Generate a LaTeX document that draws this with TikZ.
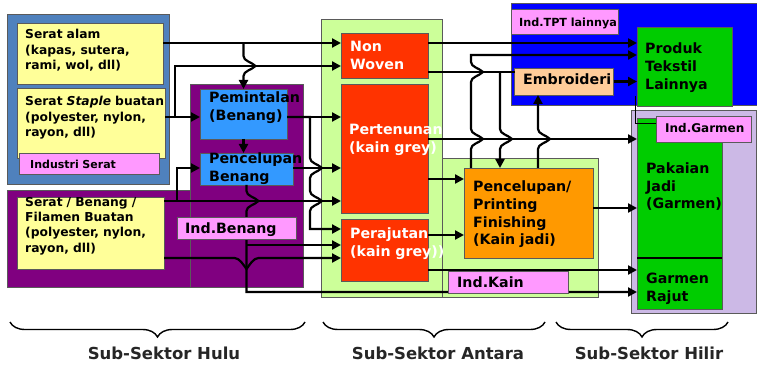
\documentclass[tikz,border=0pt]{standalone}
\usepackage{fontspec}
\setmainfont{DejaVu Sans}
\usetikzlibrary{arrows.meta,decorations.pathreplacing}

\definecolor{grpblue}{HTML}{4F81BD}
\definecolor{pale}{HTML}{FFFF99}
\definecolor{pinklbl}{HTML}{FF99FF}
\definecolor{plum}{HTML}{800080}
\definecolor{skyb}{HTML}{3399FF}
\definecolor{limeg}{HTML}{CCFF99}
\definecolor{redor}{HTML}{FF3300}
\definecolor{orng}{HTML}{FF9900}
\definecolor{tptblue}{HTML}{0000FF}
\definecolor{leaf}{HTML}{00CC00}
\definecolor{peach}{HTML}{FFCC99}
\definecolor{lav}{HTML}{CCB9E6}
\definecolor{edge}{HTML}{5A5A5A}

\newcommand{\dgYel}{\fontsize{12.3}{15.4}\selectfont\bfseries}
\newcommand{\dgBig}{\fontsize{14.2}{18}\selectfont\bfseries}
\newcommand{\dgSec}{\fontsize{16.5}{20}\selectfont\bfseries}

\begin{document}
\begin{tikzpicture}[x=1pt,y=-1pt,
  area/.style={draw=edge, line width=0.7pt, inner sep=0pt, outer sep=0pt},
  conn/.style={line width=2.2pt, -{Triangle[length=9pt,width=9pt]}},
  wire/.style={line width=2.2pt},
  txt/.style={anchor=base west, inner sep=0pt, text width=170pt, align=left},
  sect/.style={anchor=base, inner sep=0pt, font=\dgSec, text=black!85},
  % jump of a vertical line (running down) over a horizontal one
  hopdn/.style={insert path={.. controls +(0,5) and +(-4,-4) .. ++(12,10) .. controls +(-4,4) and +(0,-5) .. ++(-12,10)}},
  % jump of a vertical line (running up) over a horizontal one
  hopup/.style={insert path={.. controls +(0,-5) and +(-4,4) .. ++(12,-10) .. controls +(-4,-4) and +(0,5) .. ++(-12,-10)}},
  % dip of a horizontal line (running right) under a vertical one
  hopv/.style={insert path={.. controls +(5,0) and +(-3,-4) .. ++(12,11) .. controls +(3,-4) and +(-5,0) .. ++(12,-11)}},
]
\useasboundingbox (0,0) rectangle (757,366);

% ---------- industry groups ----------
\node[area, fill=grpblue, minimum width=162, minimum height=170] (gserat) at (88,99) {};
\node[area, fill=plum, minimum width=296, minimum height=97] (gbenlow) at (155,238.5) {};
\node[area, fill=plum, minimum width=113, minimum height=203] (gbentall) at (246.5,185.5) {};
\node[area, fill=limeg, minimum width=121, minimum height=278] (gantara) at (381.5,158) {};
\node[area, fill=limeg, minimum width=156, minimum height=139] (gkain) at (520,227.5) {};
\node[area, fill=tptblue, minimum width=246, minimum height=102] (gtpt) at (634,54) {};
\node[area, fill=lav, minimum width=125, minimum height=203] (ggarmen) at (693.5,211.5) {};

% ---------- process boxes ----------
\node[area, fill=pale, minimum width=146, minimum height=61] (seratalam) at (90,53.5) {};
\node[area, fill=pale, minimum width=148, minimum height=70] (staple) at (91,123) {};
\node[area, fill=pale, minimum width=147, minimum height=72] (filamen) at (90.5,233) {};
\node[area, fill=skyb, minimum width=87, minimum height=50] (pemintalan) at (243.5,114) {};
\node[area, fill=skyb, minimum width=93, minimum height=32] (pencben) at (246.5,169) {};
\node[area, fill=redor, minimum width=87, minimum height=45] (nonwoven) at (384.5,55.5) {};
\node[area, fill=redor, minimum width=87, minimum height=129] (pertenunan) at (384.5,148.5) {};
\node[area, fill=redor, minimum width=87, minimum height=62] (perajutan) at (384.5,250) {};
\node[area, fill=orng, minimum width=129, minimum height=90] (pencprint) at (528.5,213) {};
\node[area, fill=leaf, minimum width=95, minimum height=79] (produk) at (684.5,66.5) {};
\node[area, fill=peach, minimum width=99, minimum height=27] (embro) at (564,81.5) {};
\node[area, fill=leaf, minimum width=85, minimum height=140] (pakaian) at (679.5,188) {};
\node[area, fill=leaf, minimum width=85, minimum height=51] (rajut) at (679.5,283.5) {};
\draw[line width=2.2pt] (pakaian.south west) -- (pakaian.south east);

\node[area, fill=pinklbl, minimum width=140, minimum height=21] (indserat) at (89,163.5) {};
\node[area, fill=pinklbl, minimum width=107, minimum height=25] (indtpt) at (564.5,21.5) {};

% ---------- flows ----------
\draw[conn] (seratalam.east |- 0,43) -- (nonwoven.west |- 0,43);
\draw[conn] (pemintalan.north |- 0,43) -- (pemintalan.north |- 0,56) [hopdn] -- (pemintalan.north);
\draw[conn] (staple.east |- 0,117) -- (pemintalan.west |- 0,117);
\draw[conn] (staple.east |- 0,117) -- ++(10,0) |- (nonwoven.west |- 0,66);
\draw[conn] (pemintalan.east |- 0,117) -- (pertenunan.west |- 0,117);
\draw[conn] (pemintalan.east |- 0,117) -- (310,117) -- (310,158) [hopdn] -- (310,191) [hopdn] -- (310,229) -- (perajutan.west |- 0,229);
\draw[conn] (pemintalan.south) -- (pemintalan.south |- pencben.north);
\draw[conn] (pencben.east |- 0,168) -- (pertenunan.west |- 0,168);
\draw[conn] (filamen.east |- 0,201) -- (pertenunan.west |- 0,201);
\draw[conn] (filamen.east |- 0,201) -- ++(13,0) |- (pencben.west |- 0,168);
\draw[conn] (pencben.south) -- ++(0,6) [hopdn] -- (pencben.south |- 0,292) -- (rajut.west |- 0,292);
\draw[conn] (pencben.south |- 0,245) -- (perajutan.west |- 0,245);
\draw[conn] (filamen.east |- 0,258) -- (234.5,258) [hopv] -- (perajutan.west |- 0,258);

\draw[conn] (nonwoven.east |- 0,43) -- (produk.west |- 0,43);
\draw[wire] (nonwoven.east |- 0,72) -- (embro.west |- 0,72);
\draw[conn] (500,72) -- (500,129) [hopdn] -- (pencprint.north -| 500,0);
\draw[conn] (pencprint.north -| 471,0) -- (471,149) [hopup] -- (471,82) [hopup] -- (471,55) -- (produk.west |- 0,55);
\draw[conn] (pencprint.north -| 538,0) -- (538,149) [hopup] -- (embro.south -| 538,0);
\draw[conn] (pertenunan.east |- 0,139) -- (pakaian.west |- 0,139);
\draw[conn] (pertenunan.east |- 0,179) -- (pencprint.west |- 0,179);
\draw[conn] (perajutan.east |- 0,235) -- (pencprint.west |- 0,235);
\draw[conn] (pencprint.east |- 0,208) -- (pakaian.west |- 0,208);
\draw[conn] (embro.east) -- (produk.west |- embro.east);
\draw[conn] (perajutan.east |- 0,270) -- (rajut.west |- 0,270);

% ---------- industry labels over the flows ----------
\node[area, fill=pinklbl, minimum width=119, minimum height=22] (indbenang) at (236.5,228) {};
\node[area, fill=pinklbl, minimum width=120, minimum height=22] (indkain) at (508,282) {};
\node[area, fill=pinklbl, minimum width=95, minimum height=26] (indgarmen) at (703.5,129) {};
\draw[line width=0.8pt] ([shift={(-2,-10)}]produk.south west) |- (indgarmen.west |- 0,123);

% ---------- texts ----------
\node[txt, font=\dgYel] (t-alam) at (25,39) {Serat alam\\(kapas, sutera,\\rami, wol, dll)};
\node[txt, font=\dgYel] (t-staple) at (25,106) {Serat \textit{Staple} buatan\\(polyester, nylon,\\rayon, dll)};
\node[txt, font=\dgYel] (t-filamen) at (25,206) {Serat / Benang /\\Filamen Buatan\\(polyester, nylon,\\rayon, dll)};
\node[txt, font=\fontsize{11}{13}\selectfont\bfseries] (t-indserat) at (30,168) {Industri Serat};
\node[txt, font=\dgBig] (t-pemintalan) at (209,103) {Pemintalan\\(Benang)};
\node[txt, font=\dgBig] (t-pencben) at (209,164) {Pencelupan\\Benang};
\node[txt, font=\dgBig] (t-indbenang) at (185,233) {Ind.Benang};
\node[txt, font=\dgBig, text=white] (t-nonwoven) at (350,52) {Non\\Woven};
\node[txt, font=\dgBig, text=white] (t-pertenunan) at (349,135) {Pertenunan\\(kain grey)};
\node[txt, font=\dgBig, text=white] (t-perajutan) at (350,238) {Perajutan\\(kain grey))};
\node[txt, font=\dgBig] (t-pencprint) at (473,191) {Pencelupan/\\Printing\\Finishing\\(Kain jadi)};
\node[txt, font=\dgBig] (t-indkain) at (457,287) {Ind.Kain};
\node[txt, font=\fontsize{11.2}{13}\selectfont\bfseries] (t-indtpt) at (519,27) {Ind.TPT lainnya};
\node[txt, font=\dgBig] (t-produk) at (645,54) {Produk\\Tekstil\\Lainnya};
\node[txt, font=\dgBig] (t-embro) at (523,85) {Embroideri};
\node[txt, font=\fontsize{12}{14}\selectfont\bfseries] (t-indgarmen) at (665,133) {Ind.Garmen};
\node[txt, font=\fontsize{14.2}{17.5}\selectfont\bfseries] (t-pakaian) at (646,174) {Pakaian\\Jadi\\(Garmen)};
\node[txt, font=\dgBig] (t-rajut) at (646,283) {Garmen\\Rajut};

% ---------- sub-sector braces ----------
\draw[line width=1.4pt, decorate, decoration={brace, mirror, amplitude=15pt}] (10,322) -- (305,322);
\draw[line width=1.4pt, decorate, decoration={brace, mirror, amplitude=15pt}] (323,322) -- (545,322);
\draw[line width=1.4pt, decorate, decoration={brace, mirror, amplitude=15pt}] (556,322) -- (728,322);
\node[sect] (s-hulu) at (164,359) {Sub-Sektor Hulu};
\node[sect] (s-antara) at (438,359) {Sub-Sektor Antara};
\node[sect] (s-hilir) at (649,359) {Sub-Sektor Hilir};
\end{tikzpicture}
\end{document}
